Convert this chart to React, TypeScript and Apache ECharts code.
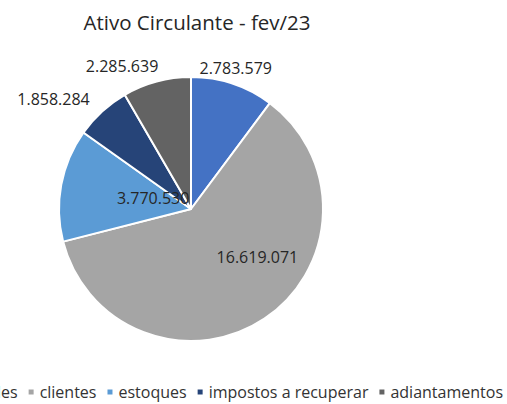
import React, { useEffect, useRef } from "react";
import * as echarts from "echarts";

const categories = ["disponibilidades", "clientes", "estoques", "impostos a recuperar", "adiantamentos"];
const values = [2783579, 16619071, 3770530, 1858284, 2285639];
const labels = ["2.783.579", "16.619.071", "3.770.530", "1.858.284", "2.285.639"];
const colors = ["#4472C4", "#A5A5A5", "#5B9BD5", "#264478", "#636363"];
// label offsets relative to ECharts' inside label position (style only)
const labelShift = [
  [23, -76],
  [28, -9],
  [30, 2],
  [-91, -59],
  [-51, -76],
];

export default function App() {
  const ref = useRef<HTMLDivElement>(null);
  useEffect(() => {
    if (!ref.current) return;
    const chart = echarts.init(ref.current, null, { renderer: "svg" });
    chart.setOption({
      animation: false,
      backgroundColor: "#ffffff",
      title: {
        text: "Ativo Circulante - fev/23",
        left: 192,
        top: 6,
        textAlign: "center",
        textStyle: {
          fontFamily: "Open Sans",
          fontSize: 20.5,
          fontWeight: "normal",
          color: "#262626",
        },
      },
      legend: {
        data: categories,
        bottom: 4,
        right: 4,
        padding: 0,
        width: 900,
        itemWidth: 7,
        itemHeight: 7,
        itemGap: 9,
        icon: "rect",
        textStyle: { fontFamily: "Open Sans", fontSize: 16, color: "#333333" },
      },
      series: [
        {
          type: "pie",
          center: [191, 209],
          radius: 132,
          startAngle: 90,
          clockwise: true,
          itemStyle: { borderColor: "#ffffff", borderWidth: 2 },
          label: {
            show: true,
            position: "inside",
            fontFamily: "Open Sans",
            fontSize: 16,
            color: "#262626",
            formatter: (p: any) => labels[p.dataIndex],
          },
          labelLine: { show: false },
          labelLayout: (p: any) => ({ dx: labelShift[p.dataIndex][0], dy: labelShift[p.dataIndex][1] }),
          emphasis: { disabled: true },
          data: categories.map((c, i) => ({ name: c, value: values[i], itemStyle: { color: colors[i] } })),
        },
      ],
    });
    return () => chart.dispose();
  }, []);
  return <div ref={ref} style={{ position: "fixed", left: 0, top: 0, width: 507, height: 404 }} />;
}
